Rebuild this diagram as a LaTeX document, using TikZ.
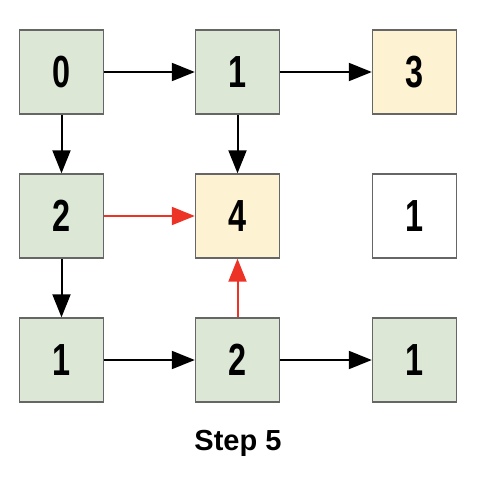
\documentclass[tikz,border=0pt]{standalone}
\usepackage{fontspec}
\setmainfont{Liberation Sans}
\usetikzlibrary{arrows.meta}
\definecolor{cellgreen}{HTML}{DCE8D5}
\definecolor{cellyellow}{HTML}{FDF2D2}
\definecolor{cellborder}{HTML}{666666}
\definecolor{hotred}{HTML}{EC3326}
\tikzset{
  cell/.style={draw=cellborder, line width=1.4pt, minimum size=84pt, inner sep=0pt,
    font=\fontsize{45}{45}\selectfont\bfseries},
  green/.style={cell, fill=cellgreen},
  yellow/.style={cell, fill=cellyellow},
  blank/.style={cell, fill=white},
  link/.style={line width=2pt, -{Triangle[length=23pt,width=18pt]}},
  hot/.style={link, draw=hotred, -{Triangle[length=23pt,width=18pt,fill=hotred]}},
}
\newcommand{\digit}[1]{\scalebox{0.72}[1]{#1}}
\begin{document}
\begin{tikzpicture}[x=1pt,y=-1pt]
  \useasboundingbox (0,0) rectangle (478,482);
  % grid of cells
  \node[green]  (a) at (61.5,72)  {\digit{0}};
  \node[green]  (b) at (237.5,72) {\digit{1}};
  \node[yellow] (c) at (414.5,72) {\digit{3}};
  \node[green]  (d) at (61.5,216)  {\digit{2}};
  \node[yellow] (e) at (237.5,216) {\digit{4}};
  \node[blank]  (f) at (414.5,216) {\digit{1}};
  \node[green]  (g) at (61.5,360)  {\digit{1}};
  \node[green]  (h) at (237.5,360) {\digit{2}};
  \node[green]  (i) at (414.5,360) {\digit{1}};
  % connectors
  \draw[link] (a) -- (b);
  \draw[link] (b) -- (c);
  \draw[link] (a) -- (d);
  \draw[link] (b) -- (e);
  \draw[link] (d) -- (g);
  \draw[link] (g) -- (h);
  \draw[link] (h) -- (i);
  \draw[hot] (d) -- (e);
  \draw[hot] (h) -- (e);
  % caption
  \node[font=\fontsize{29}{29}\selectfont\bfseries] (cap) at (238,443) {Step 5};
\end{tikzpicture}
\end{document}
